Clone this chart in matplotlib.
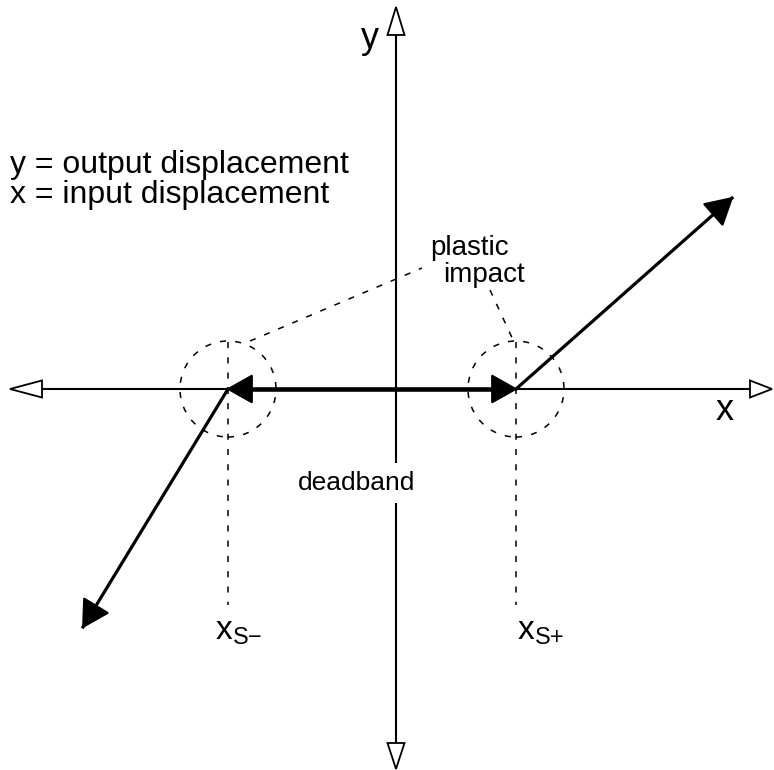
import matplotlib.pyplot as plt
from matplotlib.patches import Polygon, Circle
import numpy as np

plt.rcParams['font.family'] = ['Liberation Sans', 'DejaVu Sans']
plt.rcParams['mathtext.default'] = 'regular'

# diagram units: 1 unit = 1 px, origin where the axes cross
axis_x = [-354, 354]          # horizontal axis shaft
axis_y = [-354, 354]          # vertical axis shaft
axis_tips_x = [-386, 376]
axis_tips_y = [-380, 382]

xs_minus, xs_plus = -168, 120           # deadband limits
branch_right_x = [120, 336]
branch_right_y = [0, 191]
branch_left_x = [-168, -313]
branch_left_y = [0, -238]

impact_radius = 48
marker_top, marker_bottom = 47, -216
leader_left = ([-146, 26], [48, 121])
leader_right = ([94, 118], [99, 47])

legend_lines = ['y = output displacement', 'x = input displacement']


def head(ax, tip, base_from, length, half, filled=True):
    tip = np.array(tip, float)
    d = tip - np.array(base_from, float)
    d /= np.hypot(*d)
    n = np.array([-d[1], d[0]])
    b = tip - d * length
    pts = [tip, b + n * half, b - n * half]
    ax.add_patch(Polygon(pts, closed=True, facecolor='black' if filled else 'white',
                         edgecolor='black', lw=1.3, joinstyle='miter', zorder=5))


fig = plt.figure(figsize=(7.74, 7.70), dpi=100)
ax = fig.add_axes([0, 0, 1, 1])
ax.set_xlim(-396, 378)
ax.set_ylim(-381, 389)
ax.axis('off')

# axes
ax.plot(axis_x, [0, 0], color='black', lw=1.5)
ax.plot([0, 0], axis_y, color='black', lw=1.5)
head(ax, (axis_tips_x[0], 0), (0, 0), 32, 8.5, filled=False)
head(ax, (axis_tips_x[1], 0), (0, 0), 22, 8.5, filled=False)
head(ax, (0, axis_tips_y[1]), (0, 0), 28, 8.5, filled=False)
head(ax, (0, axis_tips_y[0]), (0, 0), 26, 8.5, filled=False)

# deadband double arrow
ax.plot([xs_minus + 20, xs_plus - 20], [0, 0], color='black', lw=3.3, solid_capstyle='butt')
head(ax, (xs_minus, 0), (xs_plus, 0), 24, 13.5)
head(ax, (xs_plus, 0), (xs_minus, 0), 24, 13.5)

# impact branches
ax.plot(branch_right_x, branch_right_y, color='black', lw=2.3)
head(ax, (branch_right_x[1], branch_right_y[1]), (branch_right_x[0], branch_right_y[0]), 25, 14)
ax.plot(branch_left_x, branch_left_y, color='black', lw=2.3)
head(ax, (branch_left_x[1], branch_left_y[1]), (branch_left_x[0], branch_left_y[0]), 25, 14)

# dashed markers
dash = dict(color='black', lw=1.1, linestyle=(0, (4, 6)))
for xs in (xs_minus, xs_plus):
    ax.add_patch(Circle((xs, 0), impact_radius, fill=False, **dash))
    ax.plot([xs, xs], [marker_top, marker_bottom], **dash)
ax.plot(*leader_left, **dash)
ax.plot(*leader_right, **dash)

# labels
ax.text(-17, 341, 'y', fontsize=26, ha='right', va='baseline')
ax.text(329, -31, 'x', fontsize=26, ha='center', va='baseline')
ax.text(-386, 216, legend_lines[0], fontsize=23, va='baseline')
ax.text(-386, 186, legend_lines[1], fontsize=23, va='baseline')
ax.text(34, 134, 'plastic', fontsize=20, va='baseline')
ax.text(47, 107, 'impact', fontsize=20, va='baseline')
ax.text(-39, -101, 'deadband', fontsize=19, ha='center', va='baseline', zorder=6,
        bbox=dict(facecolor='white', edgecolor='none', pad=6))
ax.text(-181, -251, r'$x_{S{-}}$', fontsize=24, va='baseline')
ax.text(121, -251, r'$x_{S{+}}$', fontsize=24, va='baseline')

fig.savefig('out.png', dpi=100)
